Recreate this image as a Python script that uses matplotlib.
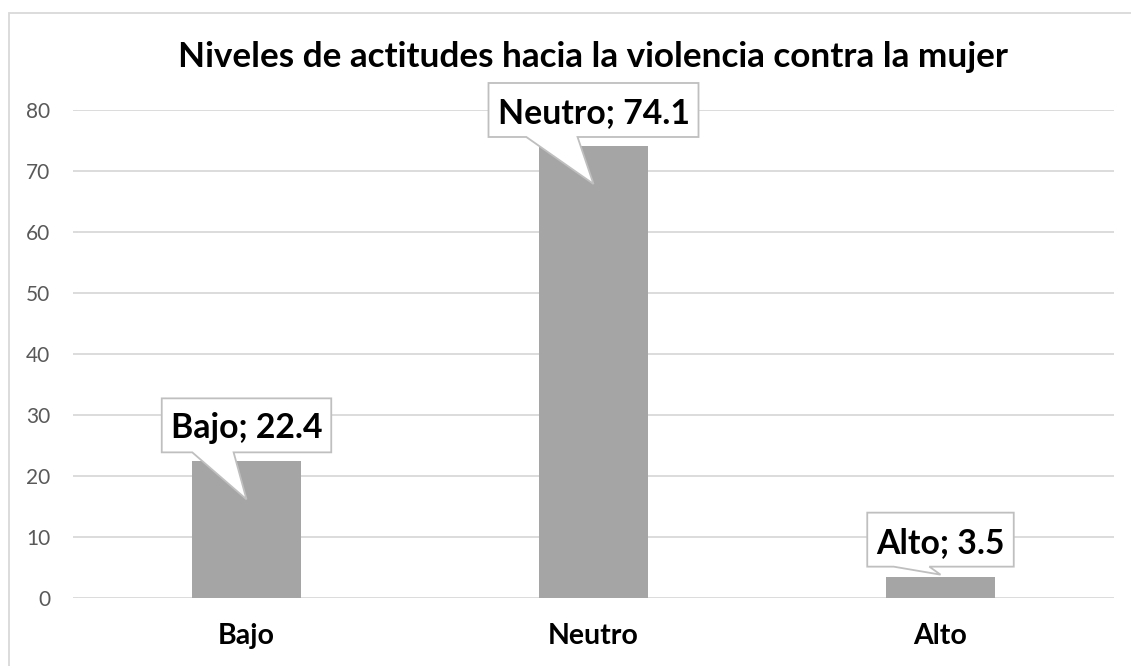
import matplotlib
matplotlib.use('Agg')
import matplotlib.pyplot as plt
from matplotlib.patches import Polygon, Rectangle
from matplotlib.transforms import IdentityTransform

# data
categories = ['Bajo', 'Neutro', 'Alto']
values = [22.4, 74.1, 3.5]
title = 'Niveles de actitudes hacia la violencia contra la mujer'

plt.rcParams['font.family'] = ['Lato', 'DejaVu Sans']

W, H = 1131, 666
fig = plt.figure(figsize=(W / 100, H / 100), dpi=100)
ax = fig.add_axes([73 / W, (H - 598) / H, (1114 - 73) / W, (598 - 110) / H])

x = range(len(categories))
bars = ax.bar(x, values, width=0.314, color='#A5A5A5', zorder=2)

ax.set_xlim(-0.5, len(categories) - 0.5)
ax.set_ylim(0, 80)
ax.set_yticks(range(0, 81, 10))
ax.set_xticks(list(x))
ax.set_xticklabels(categories, fontsize=20.5, fontweight='bold', color='black')
ax.tick_params(axis='y', length=0, pad=16.5, labelsize=15, labelcolor='#595959')
ax.tick_params(axis='x', length=0, pad=18)
ax.grid(axis='y', color='#D9D9D9', linewidth=1.3, zorder=0)
for s in ax.spines.values():
    s.set_visible(False)

fig.text(593 / W, (H - 67) / H, title, ha='center', va='baseline',
         fontsize=25.3, fontweight='bold', color='black')

# outer chart border (only left and top visible in the original)
fig.patches.append(Rectangle((8.5, -20), 1200, H + 20 - 12.5, fill=False,
                             edgecolor='#D9D9D9', linewidth=1.3,
                             transform=IdentityTransform(), figure=fig))

# callout labels
fig.canvas.draw()
renderer = fig.canvas.get_renderer()
for i, (cat, val) in enumerate(zip(categories, values)):
    cx, top = ax.transData.transform((i, val))
    gap = 10 if val < 10 else 9
    t = ax.text(0, 0, f'{cat}; {val}', ha='center', va='baseline',
                fontsize=24.3, fontweight='bold', color='black', zorder=5,
                transform=IdentityTransform())
    t.set_position((cx, top + gap + 14))
    bb = t.get_window_extent(renderer)
    x0, x1 = bb.x0 - 9, bb.x1 + 9
    y0 = top + gap
    y1 = y0 + 54
    depth = 38 if val > 10 else -2
    tip = (cx, top - depth)
    bl = cx - 0.32 * (x1 - x0)
    br = cx - 0.076 * (x1 - x0)
    pts = [(x0, y0), (bl, y0), tip, (br, y0), (x1, y0), (x1, y1), (x0, y1)]
    poly = Polygon(pts, closed=True, facecolor='white', edgecolor='#BFBFBF',
                   linewidth=1.3, transform=IdentityTransform(), zorder=4)
    ax.add_artist(poly)
    poly.set_clip_on(False)
    t.set_clip_on(False)

fig.savefig('out.png', dpi=100)
